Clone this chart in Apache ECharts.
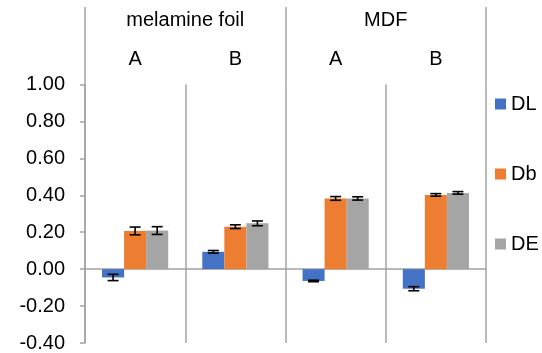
<!DOCTYPE html>
<html>
<head>
<meta charset="utf-8">
<script src="https://cdn.jsdelivr.net/npm/echarts@6/dist/echarts.min.js"></script>
<style>
  html, body { margin: 0; padding: 0; background: #fff; }
  #chart { width: 542px; height: 353px; }
</style>
</head>
<body>
<div id="chart"></div>
<script>
// data
var groups = ['melamine foil', 'MDF'];
var samples = ['A', 'B', 'A', 'B'];
var seriesNames = ['DL', 'Db', 'DE'];
var dL = [-0.045, 0.094, -0.064, -0.106];
var dLErr = [0.017, 0.007, 0.004, 0.011];
var db = [0.207, 0.230, 0.383, 0.402];
var dbErr = [0.021, 0.010, 0.010, 0.007];
var dE = [0.209, 0.248, 0.383, 0.413];
var dEErr = [0.021, 0.013, 0.009, 0.007];
var yTicks = [-0.4, 1.0, 0.2]; // min, max, step

var colors = ['#4472C4', '#ED7D31', '#A5A5A5'];
var gridLine = '#a3a3a3';
var font = 'Liberation Sans, Arial, sans-serif';
var gapPct = 0.34;

// error bar items: [category, low, high, series index]
var errData = [];
[[dL, dLErr], [db, dbErr], [dE, dEErr]].forEach(function (pair, k) {
  for (var i = 0; i < pair[0].length; i++) {
    errData.push([i, pair[0][i] - pair[1][i], pair[0][i] + pair[1][i], k]);
  }
});

function renderErr(params, api) {
  var cat = api.value(0), lo = api.value(1), hi = api.value(2), k = api.value(3);
  var band = api.size([1, 0])[0];
  var barW = band * (1 - gapPct) / 3;
  var x = api.coord([cat, 0])[0] + (k - 1) * barW;
  var yLo = api.coord([cat, lo])[1];
  var yHi = api.coord([cat, hi])[1];
  var hw = 5.5;
  var st = { stroke: '#000', lineWidth: 1.6 };
  return {
    type: 'group',
    children: [
      { type: 'line', shape: { x1: x, y1: yLo, x2: x, y2: yHi }, style: st },
      { type: 'line', shape: { x1: x - hw, y1: yLo, x2: x + hw, y2: yLo }, style: st },
      { type: 'line', shape: { x1: x - hw, y1: yHi, x2: x + hw, y2: yHi }, style: st }
    ]
  };
}

var myChart = echarts.init(document.getElementById('chart'), null, { renderer: 'canvas' });
var option = {
  animation: false,
  color: colors,
  textStyle: { fontFamily: font },
  grid: [
    { left: 85, right: 56, top: 84.5, bottom: 8.5 },
    { left: 85, right: 56, top: 7, height: 77.5 }
  ],
  legend: {
    data: seriesNames,
    orient: 'vertical',
    left: 495,
    top: 94,
    padding: 0,
    icon: 'rect',
    itemWidth: 11,
    itemHeight: 11,
    itemGap: 50,
    textStyle: { fontSize: 20, lineHeight: 20, color: '#000', fontFamily: font }
  },
  xAxis: [
    {
      type: 'category',
      gridIndex: 0,
      data: samples,
      position: 'bottom',
      axisLine: { onZero: true, lineStyle: { color: gridLine, width: 1.5 } },
      axisTick: { show: false },
      axisLabel: { show: false },
      splitLine: { show: true, interval: 0, lineStyle: { color: gridLine, width: 1.5 } }
    },
    {
      type: 'category',
      gridIndex: 0,
      data: samples,
      position: 'top',
      axisLine: { show: false },
      axisTick: { show: false },
      axisLabel: { interval: 0, margin: 15, fontSize: 20, color: '#000', fontFamily: font }
    },
    {
      type: 'category',
      gridIndex: 1,
      data: groups,
      position: 'top',
      axisLine: { show: false },
      axisTick: { show: false },
      axisLabel: { interval: 0, inside: true, margin: 3, fontSize: 20, color: '#000', fontFamily: font },
      splitLine: { show: true, interval: 0, lineStyle: { color: gridLine, width: 1.5 } }
    }
  ],
  yAxis: [
    {
      type: 'value',
      gridIndex: 0,
      min: yTicks[0],
      max: yTicks[1],
      interval: yTicks[2],
      axisLine: { show: true, lineStyle: { color: gridLine, width: 1.5 } },
      axisTick: { show: true, length: 5, lineStyle: { color: gridLine, width: 1.5 } },
      splitLine: { show: false },
      axisLabel: {
        margin: 20,
        fontSize: 20,
        color: '#000',
        fontFamily: font,
        formatter: function (v) { return v.toFixed(2); }
      }
    },
    {
      type: 'value',
      gridIndex: 1,
      show: false,
      min: 0,
      max: 1
    }
  ],
  series: [
    { name: 'DL', type: 'bar', data: dL, barGap: '0%', barCategoryGap: '34%' },
    { name: 'Db', type: 'bar', data: db, barGap: '0%', barCategoryGap: '34%' },
    { name: 'DE', type: 'bar', data: dE, barGap: '0%', barCategoryGap: '34%' },
    {
      name: 'err',
      type: 'custom',
      renderItem: renderErr,
      data: errData,
      encode: { x: 0, y: [1, 2] },
      z: 10,
      silent: true
    }
  ]
};
myChart.setOption(option);
</script>
</body>
</html>
